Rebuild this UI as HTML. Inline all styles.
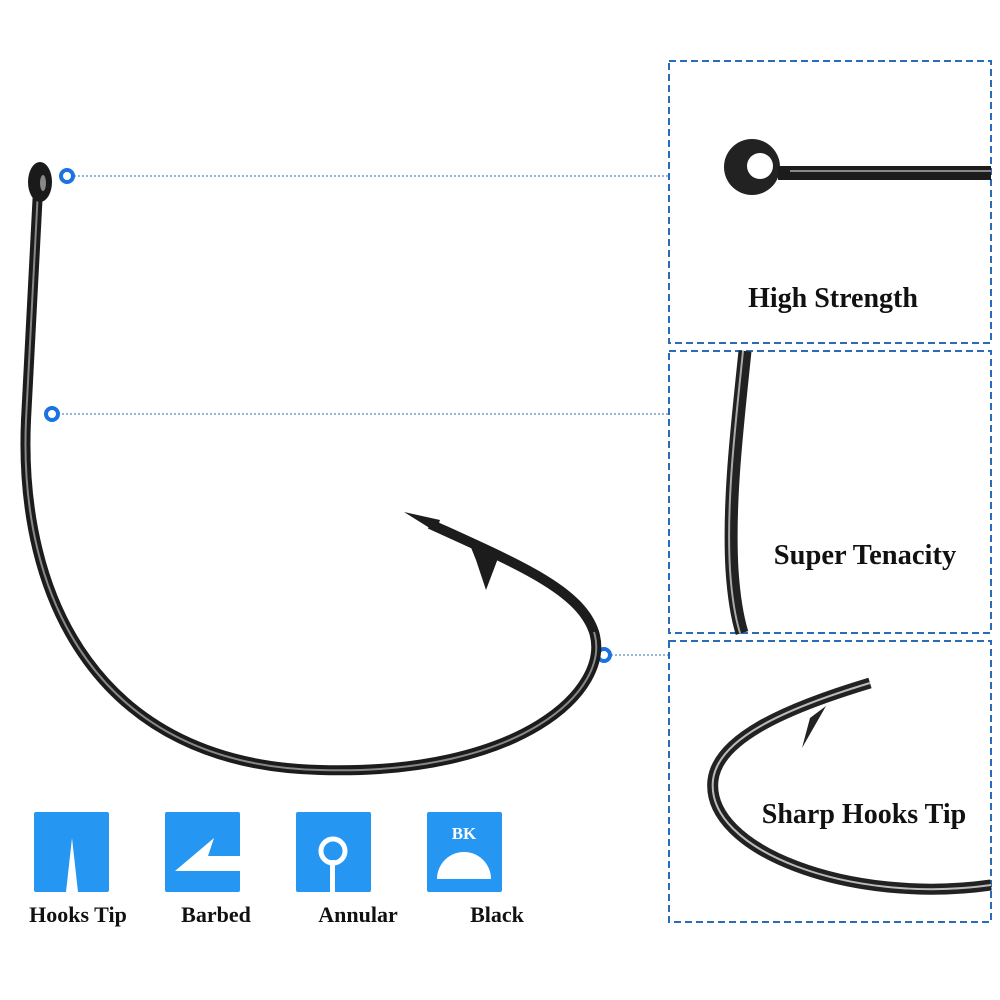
<!DOCTYPE html>
<html><head><meta charset="utf-8"><style>
html,body{margin:0;padding:0;background:#fff;}
svg{display:block;}
text{font-family:"Liberation Serif",serif;font-weight:bold;fill:#111;}
</style></head><body>
<svg width="1000" height="1000" viewBox="0 0 1000 1000">
<!-- dashed panels -->
<g fill="none" stroke="#2b6cb8" stroke-width="2" stroke-dasharray="7,4">
<rect x="669" y="61" width="322" height="282"/>
<rect x="669" y="351" width="322" height="282"/>
<rect x="669" y="641" width="322" height="281"/>
</g>
<!-- connector lines -->
<g stroke="#2b6cb8" stroke-width="1" stroke-dasharray="2,2">
<line x1="74" y1="176" x2="669" y2="176"/>
<line x1="58" y1="414" x2="669" y2="414"/>
<line x1="611" y1="655" x2="669" y2="655"/>
</g>
<g fill="#fff" stroke="#1a73e0" stroke-width="4">
<circle cx="67" cy="176" r="6"/>
<circle cx="52" cy="414" r="6"/>
<circle cx="604" cy="655" r="6"/>
</g>
<!-- main hook -->
<path d="M38,190 L26,420 C18,600 100,765 320,770 C520,776 612,690 594,632 C580,590 520,565 430,524" fill="none" stroke="#1c1c1c" stroke-width="10"/>
<polygon points="404,512 440,520 436,532" fill="#1c1c1c"/>
<path d="M38,190 L26,420 C18,600 100,765 320,770 C520,776 612,690 594,632" fill="none" stroke="#888" stroke-width="2"/>
<polygon points="470,545 500,553 486,590 476,560" fill="#1c1c1c"/>
<ellipse cx="40" cy="182" rx="12" ry="20" fill="#1a1a1a"/>
<ellipse cx="43" cy="183" rx="3" ry="8" fill="#888"/>
<!-- top panel eye -->
<circle cx="752" cy="167" r="28" fill="#222"/>
<circle cx="760" cy="166" r="13" fill="#fff"/>
<path d="M778,173 L991,173" stroke="#1c1c1c" stroke-width="14"/>
<path d="M790,171 L991,171" stroke="#888" stroke-width="2"/>
<text x="833" y="307" font-size="28" text-anchor="middle">High Strength</text>
<!-- middle panel shank -->
<path d="M745,351 C738,420 728,500 732,570 C734,600 738,620 742,633" fill="none" stroke="#222" stroke-width="13"/>
<path d="M743,351 C736,420 726,500 730,570 C732,600 736,620 740,633" fill="none" stroke="#aaa" stroke-width="2"/>
<text x="865" y="564" font-size="28.5" text-anchor="middle">Super Tenacity</text>
<!-- bottom panel hook -->
<path d="M991,885 C850,905 705,850 713,780 C718,740 780,710 870,683" fill="none" stroke="#222" stroke-width="11"/>
<path d="M991,885 C850,905 705,850 713,780 C718,740 780,710 870,683" fill="none" stroke="#bbb" stroke-width="2"/>
<polygon points="810,718 826,706 802,748" fill="#222"/>
<text x="864" y="823" font-size="28" text-anchor="middle">Sharp Hooks Tip</text>
<!-- icons -->
<g fill="#2696f3">
<rect x="34" y="812" width="75" height="80" rx="2"/>
<rect x="165" y="812" width="75" height="80" rx="2"/>
<rect x="296" y="812" width="75" height="80" rx="2"/>
<rect x="427" y="812" width="75" height="80" rx="2"/>
</g>
<polygon points="66,892 72,838 78,892" fill="#fff"/>
<polygon points="175,871 214,838 208,856 240,856 240,871" fill="#fff"/>
<circle cx="333" cy="851" r="12" fill="none" stroke="#fff" stroke-width="5"/>
<rect x="330" y="860" width="5" height="32" fill="#fff"/>
<path d="M437,879 A27,27 0 0 1 491,879 Z" fill="#fff"/>
<text x="464" y="839" font-size="17" text-anchor="middle" style="fill:#fff">BK</text>
<g font-size="22" text-anchor="middle">
<text x="78" y="922">Hooks Tip</text>
<text x="216" y="922">Barbed</text>
<text x="358" y="922">Annular</text>
<text x="497" y="922">Black</text>
</g>
</svg>
</body></html>
